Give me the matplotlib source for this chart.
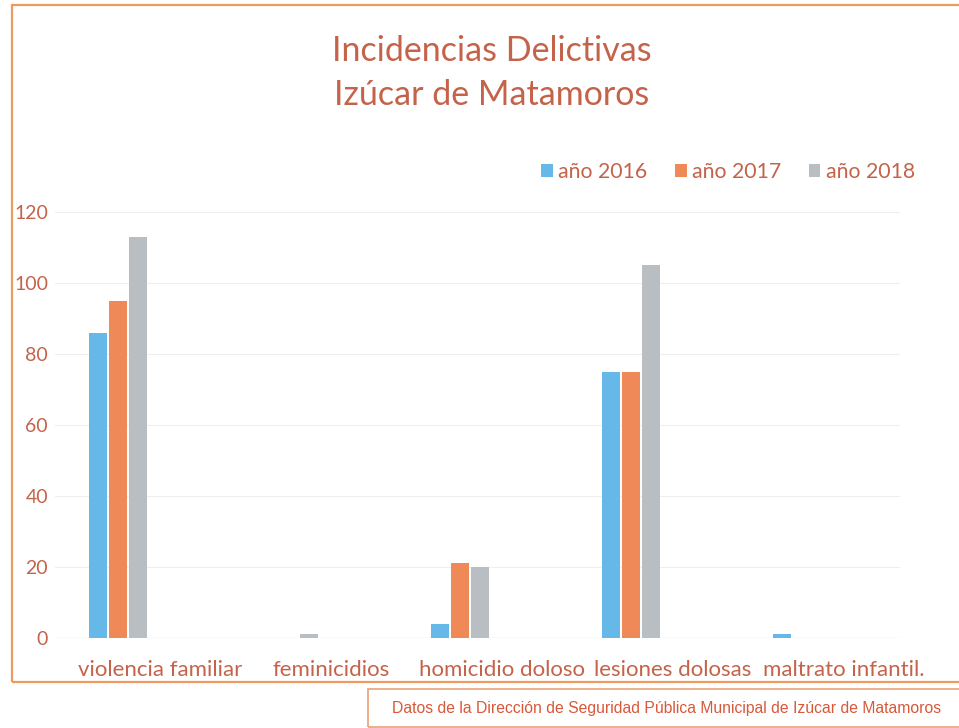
import matplotlib
matplotlib.use("Agg")
import matplotlib.pyplot as plt
from matplotlib.patches import Rectangle
import numpy as np

categories = ["violencia familiar", "feminicidios", "homicidio doloso", "lesiones dolosas", "maltrato infantil."]
series_names = ["año 2016", "año 2017", "año 2018"]
values_2016 = [86, 0, 4, 75, 1]
values_2017 = [95, 0, 21, 75, 0]
values_2018 = [113, 1, 20, 105, 0]
yticks = [0, 20, 40, 60, 80, 100, 120]

colors = ["#66B8E8", "#EF8A58", "#B9BEC3"]
txt = "#C4634A"

W, H = 959, 728
fig = plt.figure(figsize=(W / 100, H / 100), dpi=100)
fig.patch.set_facecolor("white")

# chart border (extends past right edge)
fig.add_artist(Rectangle((12 / W, 1 - 682 / H), 1.2, (682 - 5) / H,
                         transform=fig.transFigure, fill=False,
                         edgecolor="#EE9A5E", lw=1.6))
# footer box
fig.add_artist(Rectangle((368 / W, 1 - 727 / H), 1.0, (727 - 689) / H,
                         transform=fig.transFigure, fill=False,
                         edgecolor="#E9A275", lw=1.2))
fig.text(667 / W, 1 - 709 / H,
         "Datos de la Dirección de Seguridad Pública Municipal de Izúcar de Matamoros",
         ha="center", va="center", fontsize=11.3, color="#D9573A",
         family="Liberation Sans")

# axes: left 55px, right 900px, top y=212 (120), bottom y=638 (0)
L, R = 55, 900
y0px, y120px = 638, 212
ax = fig.add_axes([L / W, 1 - y0px / H, (R - L) / W, (y0px - y120px) / H])
ax.set_ylim(0, 120)
cat_w = 171.0
c0 = 118.0
ax.set_xlim((L - c0) / cat_w, (R - c0) / cat_w)

x = np.arange(len(categories))
bw = 0.105
offs = [-0.118, 0, 0.118]
for vals, col, name, o in zip([values_2016, values_2017, values_2018], colors, series_names, offs):
    ax.bar(x + o, vals, width=bw, color=col, label=name, zorder=3)

ax.set_yticks(yticks)
ax.set_yticklabels([str(t) for t in yticks], family="Lato", fontsize=14, color=txt)
ax.set_xticks(x + 42 / cat_w)
ax.set_xticklabels(categories, family="Lato", fontsize=16, color=txt)
ax.tick_params(axis="both", length=0)
ax.tick_params(axis="y", pad=5)
ax.tick_params(axis="x", pad=16)
for s in ax.spines.values():
    s.set_visible(False)
ax.grid(axis="y", color="#EFEFEF", lw=0.8, zorder=0)
ax.axhline(0, color="#E2E2E2", lw=0.9, zorder=2)
ax.set_facecolor("none")

fig.text(492 / W, 1 - 51 / H, "Incidencias Delictivas", ha="center", va="center",
         family="Lato", fontsize=24.5, color=txt)
fig.text(492 / W, 1 - 95 / H, "Izúcar de Matamoros", ha="center", va="center",
         family="Lato", fontsize=24.5, color=txt)

leg = fig.legend(loc="center", bbox_to_anchor=(728 / W, 1 - 172 / H), ncol=3,
                 frameon=False, prop={"family": "Lato", "size": 15.3},
                 handlelength=0.55, handleheight=0.55, handletextpad=0.25,
                 columnspacing=1.3)
for t in leg.get_texts():
    t.set_color(txt)

fig.savefig("out.png", dpi=100, facecolor="white")
